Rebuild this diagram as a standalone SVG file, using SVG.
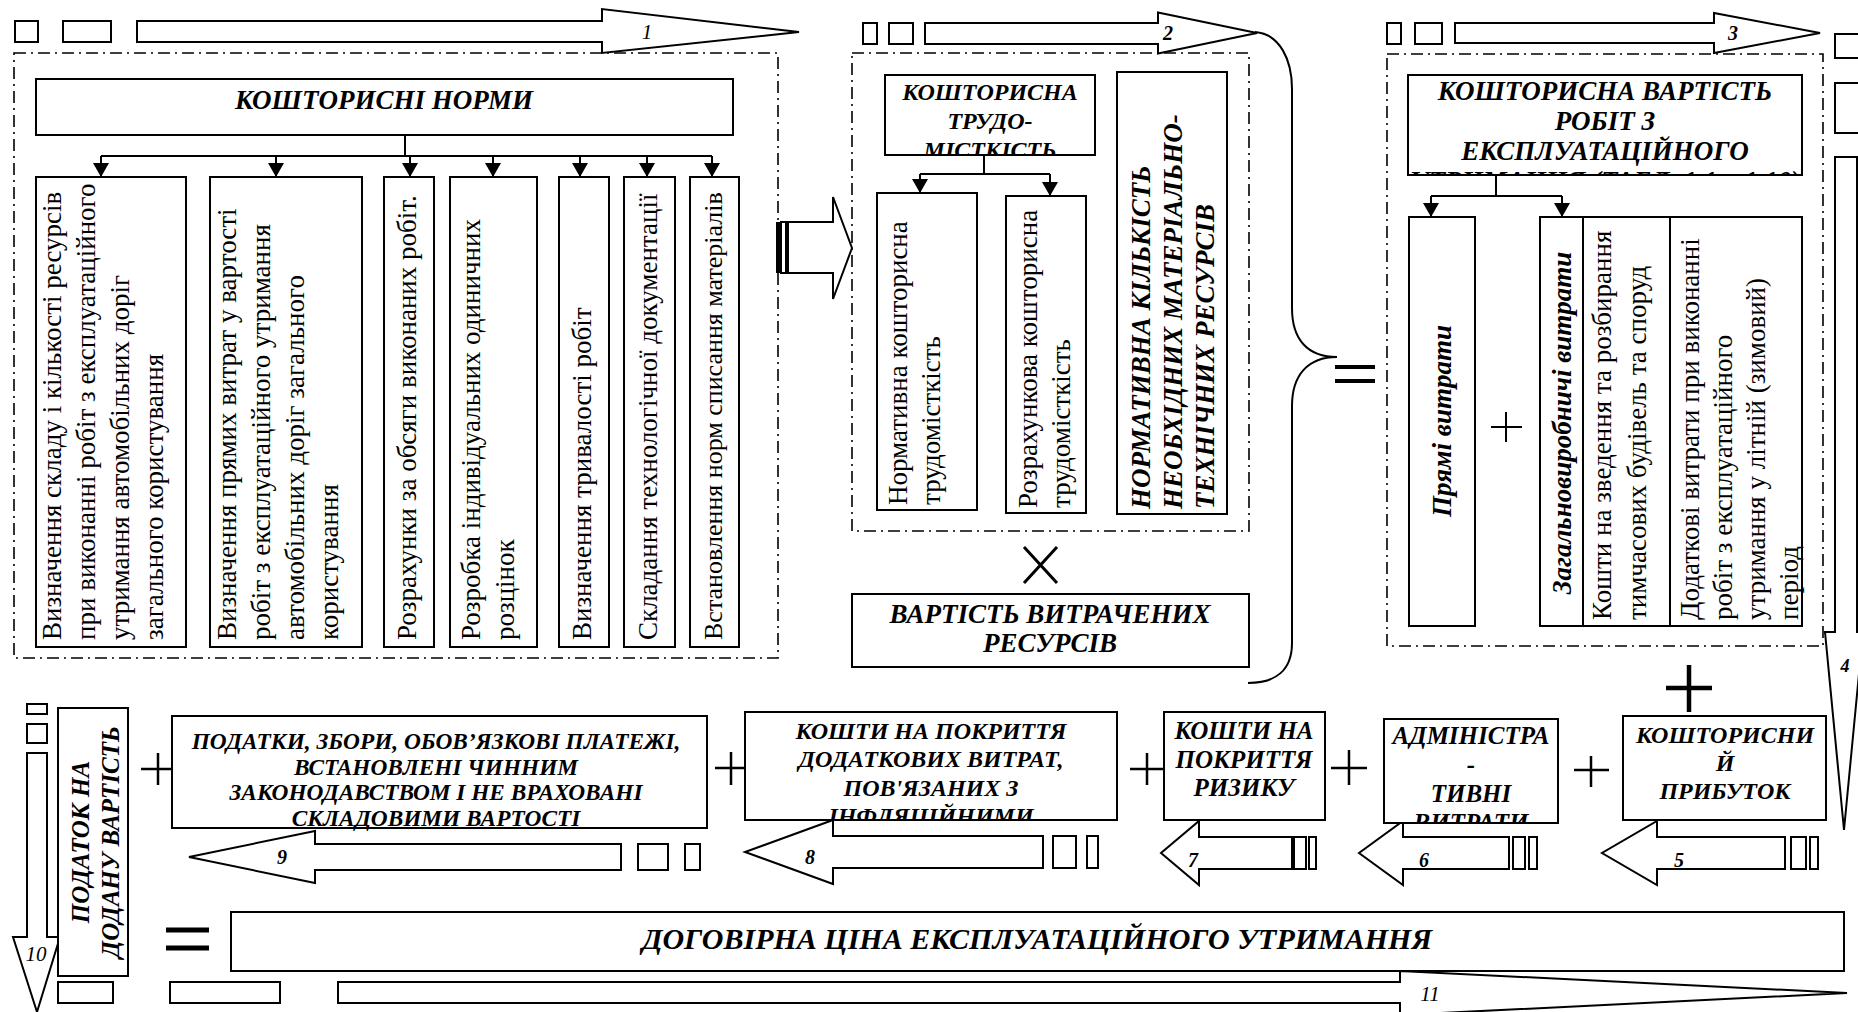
<svg xmlns="http://www.w3.org/2000/svg" width="1858" height="1012" viewBox="0 0 1858 1012">
<defs>
<style>
.b{fill:#fff;stroke:#000;stroke-width:2}
.d{fill:none;stroke:#000;stroke-width:1.6;stroke-dasharray:12 5 2 5}
.l{fill:none;stroke:#000;stroke-width:2}
.ar{fill:#fff;stroke:#000;stroke-width:2;stroke-linejoin:miter}
.op{fill:none;stroke:#000}
text{font-family:"Liberation Serif","DejaVu Serif",serif;fill:#000}
.r{font-size:27px}
.bi{font-weight:bold;font-style:italic}
.m{text-anchor:middle}
.lab{font-size:21px;font-style:italic}
.labb{font-size:20px;font-style:italic;font-weight:bold}
</style>
<marker id="ah" viewBox="0 0 14 16" refX="14" refY="8" markerWidth="14" markerHeight="16" markerUnits="userSpaceOnUse" orient="auto">
<path d="M0,0 L14,8 L0,16 z" fill="#000"/>
</marker>
<clipPath id="c2"><rect x="885" y="75" width="210" height="80"/></clipPath>
<clipPath id="c3"><rect x="1408" y="75" width="394" height="100"/></clipPath>
<clipPath id="c8"><rect x="745" y="712" width="372" height="108"/></clipPath>
<clipPath id="c6"><rect x="1384" y="719" width="174" height="104"/></clipPath>
</defs>

<g id="frames">
<rect class="d" x="14" y="53" width="764" height="605"/>
<rect class="d" x="852" y="53" width="397" height="478"/>
<rect class="d" x="1387" y="54" width="436" height="592"/>
</g>

<g id="flow">
<rect class="b" x="15" y="21" width="23" height="21"/>
<rect class="b" x="63" y="21" width="48" height="21"/>
<polygon class="ar" points="137,21 602,21 602,9 799,32 602,53 602,42 137,42"/>
<text class="lab m" x="647" y="39">1</text>

<rect class="b" x="863" y="23" width="14" height="21"/>
<rect class="b" x="889" y="23" width="24" height="21"/>
<polygon class="ar" points="925,23 1158,23 1158,12.5 1257,33 1158,53.5 1158,44 925,44"/>
<text class="labb m" x="1168" y="40">2</text>

<rect class="b" x="1387" y="23" width="14" height="21"/>
<rect class="b" x="1415" y="23" width="27" height="21"/>
<polygon class="ar" points="1455,23 1714,23 1714,13 1820,33 1714,53 1714,43 1455,43"/>
<text class="labb m" x="1733" y="40">3</text>

<rect class="b" x="1835" y="34" width="24" height="24"/>
<rect class="b" x="1835" y="83" width="24" height="50"/>
<polygon class="ar" points="1835,157 1857,157 1857,632 1863,632 1844,830 1825,632 1835,632"/>
<text class="labb m" x="1845" y="672" style="font-size:18px">4</text>

<rect x="776" y="222" width="4" height="51" fill="#000"/>
<rect class="b" x="781" y="222" width="5" height="51"/>
<polygon class="ar" points="788,222 833,222 833,197 852,248 833,299 833,273 788,273"/>

<polygon class="ar" points="1785,837 1657,837 1657,821 1602,853 1657,885 1657,869 1785,869"/>
<rect class="b" x="1791" y="837" width="15" height="32"/>
<rect class="b" x="1810" y="837" width="8" height="32"/>
<text class="labb m" x="1679" y="867">5</text>

<polygon class="ar" points="1509,837 1403,837 1403,821 1359,853 1403,885 1403,869 1509,869"/>
<rect class="b" x="1513" y="837" width="12" height="32"/>
<rect class="b" x="1529" y="837" width="8" height="32"/>
<text class="labb m" x="1424" y="867">6</text>

<polygon class="ar" points="1292,837 1199,837 1199,821 1161,853 1199,885 1199,869 1292,869"/>
<rect class="b" x="1294" y="837" width="12" height="32"/>
<rect class="b" x="1309" y="837" width="7" height="32"/>
<text class="labb m" x="1193" y="867">7</text>

<polygon class="ar" points="1043,836 833,836 833,820 745,852 833,884 833,868 1043,868"/>
<rect class="b" x="1053" y="836" width="23" height="32"/>
<rect class="b" x="1087" y="836" width="11" height="32"/>
<text class="labb m" x="810" y="864">8</text>

<polygon class="ar" points="621,844 315,844 315,831 189,857 315,883 315,870 621,870"/>
<rect class="b" x="638" y="844" width="30" height="26"/>
<rect class="b" x="685" y="844" width="15" height="26"/>
<text class="labb m" x="282" y="864">9</text>

<rect class="b" x="27" y="704" width="20" height="10"/>
<rect class="b" x="27" y="724" width="20" height="19"/>
<polygon class="ar" points="27,753 47,753 47,937 60,937 37,1012 13,937 27,937"/>
<text class="lab m" x="36" y="961">10</text>

<rect class="b" x="58" y="982" width="55" height="21"/>
<rect class="b" x="170" y="982" width="110" height="21"/>
<polygon class="ar" points="338,982 1400,982 1400,971 1847,993 1400,1015 1400,1003 338,1003"/>
<text class="lab m" x="1430" y="1001">11</text>
</g>

<g id="connectors">
<path class="l" d="M405,135 V156 M101,156 H712"/>
<path class="l" marker-end="url(#ah)" d="M101,156 V177"/>
<path class="l" marker-end="url(#ah)" d="M276,156 V177"/>
<path class="l" marker-end="url(#ah)" d="M410,156 V177"/>
<path class="l" marker-end="url(#ah)" d="M493,156 V177"/>
<path class="l" marker-end="url(#ah)" d="M580,156 V177"/>
<path class="l" marker-end="url(#ah)" d="M647,156 V177"/>
<path class="l" marker-end="url(#ah)" d="M712,156 V177"/>

<path class="l" d="M984,155 V174 M920,174 H1050"/>
<path class="l" marker-end="url(#ah)" d="M920,174 V193"/>
<path class="l" marker-end="url(#ah)" d="M1050,174 V196"/>

<path class="l" d="M1496,175 V196 M1431,196 H1562"/>
<path class="l" marker-end="url(#ah)" d="M1431,196 V217"/>
<path class="l" marker-end="url(#ah)" d="M1562,196 V217"/>

<path class="l" d="M1255,32 C1280,34 1292,60 1292,89 L1292,308 C1292,340 1308,357 1337,357 C1308,357 1292,375 1292,406 L1292,643 C1292,670 1276,683 1248,683"/>
</g>

<g id="operators">
<path class="op" stroke-width="4" d="M1335,367 H1375 M1335,381 H1375"/>
<path class="op" stroke-width="3" d="M1024,547 L1057,583 M1057,547 L1024,583"/>
<path class="op" stroke-width="2" d="M1491,427 H1522 M1506,412 V442"/>
<path class="op" stroke-width="4.5" d="M1666,688 H1712 M1689,665 V712"/>
<path class="op" stroke-width="2.5" d="M141,769 H175 M158,753 V785"/>
<path class="op" stroke-width="2.5" d="M715,768 H747 M731,752 V785"/>
<path class="op" stroke-width="2.5" d="M1130,769 H1163 M1147,753 V785"/>
<path class="op" stroke-width="2.5" d="M1331,768 H1367 M1349,750 V785"/>
<path class="op" stroke-width="2.5" d="M1574,770 H1609 M1591,756 V787"/>
<path class="op" stroke-width="5" d="M166,930 H209 M166,948 H209"/>
</g>

<g id="n-norms">
<rect class="b" x="36" y="79" width="697" height="56"/>
<text class="bi m" x="384" y="109" style="font-size:27px">КОШТОРИСНІ НОРМИ</text>
</g>
<g id="n-1a">
<rect class="b" x="36" y="177" width="150" height="470"/>
<text class="r" transform="translate(61,640) rotate(-90)"><tspan x="0">Визначення складу і кількості ресурсів</tspan><tspan x="0" dy="34">при виконанні робіт з експлуатаційного</tspan><tspan x="0" dy="34">утримання автомобільних доріг</tspan><tspan x="0" dy="34">загального користування</tspan></text>
</g>
<g id="n-1b">
<rect class="b" x="210" y="177" width="152" height="470"/>
<text class="r" transform="translate(236,640) rotate(-90)"><tspan x="0">Визначення прямих витрат у вартості</tspan><tspan x="0" dy="34">робіт з експлуатаційного утримання</tspan><tspan x="0" dy="34">автомобільних доріг загального</tspan><tspan x="0" dy="34">користування</tspan></text>
</g>
<g id="n-1c">
<rect class="b" x="384" y="177" width="50" height="470"/>
<text class="r" transform="translate(416,640) rotate(-90)">Розрахунки за обсяги виконаних робіт.</text>
</g>
<g id="n-1d">
<rect class="b" x="450" y="177" width="87" height="470"/>
<text class="r" transform="translate(480,640) rotate(-90)"><tspan x="0">Розробка індивідуальних одиничних</tspan><tspan x="0" dy="34">розцінок</tspan></text>
</g>
<g id="n-1e">
<rect class="b" x="559" y="177" width="50" height="470"/>
<text class="r" transform="translate(591,640) rotate(-90)">Визначення тривалості робіт</text>
</g>
<g id="n-1f">
<rect class="b" x="624" y="177" width="51" height="470"/>
<text class="r" transform="translate(657,640) rotate(-90)">Складання технологічної документації</text>
</g>
<g id="n-1g">
<rect class="b" x="690" y="177" width="49" height="470"/>
<text class="r" style="font-size:26px" transform="translate(722,640) rotate(-90)">Встановлення норм списання матеріалів</text>
</g>

<g id="n-labour">
<rect class="b" x="885" y="75" width="210" height="80"/>
<g clip-path="url(#c2)">
<text class="bi m" x="990" y="100" style="font-size:24px"><tspan x="990">КОШТОРИСНА</tspan><tspan x="990" dy="29">ТРУДО-</tspan><tspan x="990" dy="29">МІСТКІСТЬ</tspan></text>
</g>
</g>
<g id="n-labour-norm">
<rect class="b" x="877" y="193" width="100" height="317"/>
<text class="r" transform="translate(907,505) rotate(-90)"><tspan x="0">Нормативна кошторисна</tspan><tspan x="0" dy="33">трудомісткість</tspan></text>
</g>
<g id="n-labour-calc">
<rect class="b" x="1006" y="196" width="80" height="317"/>
<text class="r" transform="translate(1037,508) rotate(-90)"><tspan x="0">Розрахункова кошторисна</tspan><tspan x="0" dy="33">трудомісткість</tspan></text>
</g>
<g id="n-resources">
<rect class="b" x="1117" y="72" width="110" height="442"/>
<text class="bi" style="font-size:27px" transform="translate(1150,509) rotate(-90)"><tspan x="0">НОРМАТИВНА КІЛЬКІСТЬ</tspan><tspan x="0" dy="32">НЕОБХІДНИХ МАТЕРІАЛЬНО-</tspan><tspan x="0" dy="32">ТЕХНІЧНИХ РЕСУРСІВ</tspan></text>
</g>
<g id="n-cost-res">
<rect class="b" x="852" y="594" width="397" height="73"/>
<text class="bi m" style="font-size:27px" x="1050" y="623"><tspan x="1050">ВАРТІСТЬ ВИТРАЧЕНИХ</tspan><tspan x="1050" dy="29">РЕСУРСІВ</tspan></text>
</g>

<g id="n-estimate">
<rect class="b" x="1408" y="75" width="394" height="100"/>
<g clip-path="url(#c3)">
<text class="bi m" style="font-size:27px" x="1605" y="100"><tspan x="1605">КОШТОРИСНА ВАРТІСТЬ</tspan><tspan x="1605" dy="30">РОБІТ З</tspan><tspan x="1605" dy="30">ЕКСПЛУАТАЦІЙНОГО</tspan><tspan x="1605" dy="30">УТРИМАННЯ (ТАБЛ. 1.1 – 1.10)</tspan></text>
</g>
</g>
<g id="n-direct">
<rect class="b" x="1409" y="217" width="66" height="409"/>
<text class="bi m" style="font-size:27px" transform="translate(1451,421) rotate(-90)">Прямі витрати</text>
</g>
<g id="n-overhead">
<rect class="b" x="1540" y="217" width="262" height="409"/>
<path class="l" d="M1583,217 V626 M1670,217 V626"/>
<text class="bi m" style="font-size:27px" transform="translate(1571,423) rotate(-90)">Загальновиробничі витрати</text>
<text class="r" transform="translate(1611,620) rotate(-90)"><tspan x="0">Кошти на зведення та розбирання</tspan><tspan x="0" dy="35">тимчасових будівель та споруд</tspan></text>
<text class="r" transform="translate(1699,620) rotate(-90)"><tspan x="0">Додаткові витрати при виконанні</tspan><tspan x="0" dy="33">робіт з експлуатаційного</tspan><tspan x="0" dy="33">утримання у літній (зимовий)</tspan><tspan x="0" dy="33">період</tspan></text>
</g>

<g id="n-vat">
<rect class="b" x="58" y="708" width="70" height="268"/>
<text class="bi m" style="font-size:25px" transform="translate(89,842) rotate(-90)"><tspan x="0">ПОДАТОК НА</tspan><tspan x="0" dy="30">ДОДАНУ ВАРТІСТЬ</tspan></text>
</g>
<g id="n-taxes">
<rect class="b" x="172" y="716" width="535" height="112"/>
<text class="bi m" style="font-size:23.3px" x="436" y="749"><tspan x="436">ПОДАТКИ, ЗБОРИ, ОБОВ’ЯЗКОВІ ПЛАТЕЖІ,</tspan><tspan x="436" dy="25.7">ВСТАНОВЛЕНІ ЧИННИМ</tspan><tspan x="436" dy="25.7">ЗАКОНОДАВСТВОМ І НЕ ВРАХОВАНІ</tspan><tspan x="436" dy="25.7">СКЛАДОВИМИ ВАРТОСТІ</tspan></text>
</g>
<g id="n-inflation">
<rect class="b" x="745" y="712" width="372" height="108"/>
<g clip-path="url(#c8)">
<text class="bi m" style="font-size:24px" x="931" y="739"><tspan x="931">КОШТИ НА ПОКРИТТЯ</tspan><tspan x="931" dy="28.3">ДОДАТКОВИХ ВИТРАТ,</tspan><tspan x="931" dy="28.3">ПОВ'ЯЗАНИХ З</tspan><tspan x="931" dy="28.3">ІНФЛЯЦІЙНИМИ</tspan></text>
</g>
</g>
<g id="n-risk">
<rect class="b" x="1164" y="712" width="161" height="108"/>
<text class="bi m" style="font-size:25px" x="1244" y="739"><tspan x="1244">КОШТИ НА</tspan><tspan x="1244" dy="28.5">ПОКРИТТЯ</tspan><tspan x="1244" dy="28.5">РИЗИКУ</tspan></text>
</g>
<g id="n-admin">
<rect class="b" x="1384" y="719" width="174" height="104"/>
<g clip-path="url(#c6)">
<text class="bi m" style="font-size:25px" x="1471" y="744"><tspan x="1471">АДМІНІСТРА</tspan><tspan x="1471" dy="29">-</tspan><tspan x="1471" dy="29">ТИВНІ</tspan><tspan x="1471" dy="29">ВИТРАТИ</tspan></text>
</g>
</g>
<g id="n-profit">
<rect class="b" x="1623" y="716" width="203" height="104"/>
<text class="bi m" style="font-size:24px" x="1725" y="743"><tspan x="1725">КОШТОРИСНИ</tspan><tspan x="1725" dy="28">Й</tspan><tspan x="1725" dy="28">ПРИБУТОК</tspan></text>
</g>
<g id="n-price">
<rect class="b" x="231" y="912" width="1613" height="59"/>
<text class="bi m" style="font-size:30px" x="1037" y="949">ДОГОВІРНА ЦІНА ЕКСПЛУАТАЦІЙНОГО УТРИМАННЯ</text>
</g>
</svg>
